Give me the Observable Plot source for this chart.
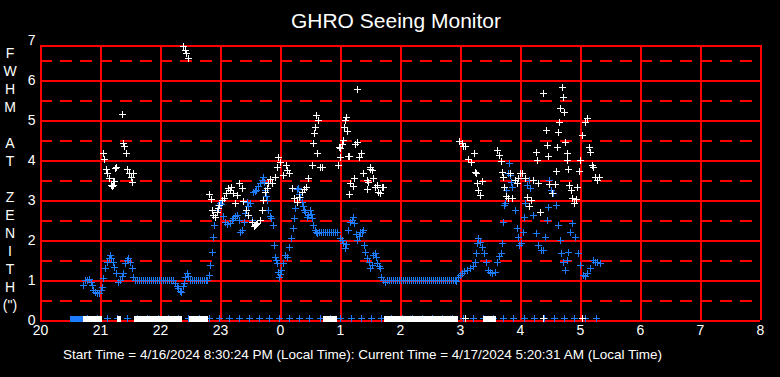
<!DOCTYPE html>
<html>
<head>
<meta charset="utf-8">
<script src="https://cdn.jsdelivr.net/npm/d3@7"></script>
<script src="https://cdn.jsdelivr.net/npm/@observablehq/plot@0.6"></script>
<style>
html, body { margin: 0; padding: 0; background: #000; }
#wrap { position: relative; width: 780px; height: 377px; background: #000; overflow: hidden;
  font-family: Arial, "Liberation Sans", sans-serif; color: #fff; }
#chart { position: absolute; left: 0; top: 0; }
#title { position: absolute; left: 0; width: 792px; top: 10px; text-align: center; font-size: 21px; line-height: 21px; }
#footer { position: absolute; left: 0; width: 725px; top: 348px; text-align: center; font-size: 13.5px; line-height: 14px; white-space: nowrap; }
#ylab { position: absolute; left: 0; width: 20px; top: 44px; text-align: center; font-size: 14px; line-height: 18px; }
</style>
</head>
<body>
<div id="wrap">
  <div id="chart"></div>
  <div id="title"></div>
  <div id="ylab"></div>
  <div id="footer"></div>
</div>
<script>
// ---------- text ----------
const titleText = "GHRO Seeing Monitor";
const footerText = "Start Time = 4/16/2024 8:30:24 PM (Local Time): Current Time = 4/17/2024 5:20:31 AM (Local Time)";
const yLabelLetters = ["F", "W", "H", "M", "", "A", "T", "", "Z", "E", "N", "I", "T", "H", "(\")"];

// ---------- axes (time in minutes after 20:00 local) ----------
const xTickLabels = ["20", "21", "22", "23", "0", "1", "2", "3", "4", "5", "6", "7", "8"];
const yTickValues = [0, 1, 2, 3, 4, 5, 6, 7];
const yHalfValues = [0.5, 1.5, 2.5, 3.5, 4.5, 5.5, 6.5];
const yFrameTop = 6.875;

// ---------- blue series [minute, FWHM] ----------
const blueEvening = [
  [43,0.88],[45,1.0],[47,1.0],[49,1.03],[51,0.95],[52,0.88],[53,0.75],[55,0.7],[57,0.68],[59,0.68],
  [61,0.75],[62,0.83],[63,1.05],[65,1.3],[67,1.45],[69,1.55],[70,1.62],[71,1.55],[73,1.45],[74,1.33],
  [76,1.17],[78,0.95],[80,1.0],[82,1.1],[83,1.17],[85,1.42],[87,1.5],[88,1.55],[90,1.45],[92,1.3],
  [93,1.08],[95,1.0],[97,1.0],[99,1.0],[101,1.0],[103,1.0],[105,1.0],[107,1.0],[109,1.0],[111,1.0],
  [113,1.0],[115,1.0],[117,1.0],[119,1.0],[121,1.0],[123,1.0],[125,1.0],[127,1.0],[129,1.0],[131,1.0],
  [133,1.0],[135,0.92],[137,0.85],[138,0.8],[140,0.72],[141,0.7],
  [143,0.85],[144,0.92],[145,1.08],[147,1.17],[148,1.1],[150,1.0],[152,1.0],[154,1.0],[156,1.0],[158,1.0],
  [160,1.0],[162,1.0],[164,1.0],[166,1.0],[167,1.0]
];
const blueMidnight = [
  [169,1.12],[170,1.37],[172,1.7],[173,2.07],[174,2.37],[175,2.57],[177,2.75],[178,2.87],[180,2.92],[181,2.9],
  [183,2.6],[185,2.45],[187,2.4],[190,2.42],[192,2.5],[193,2.55],[195,2.6],[197,2.62],[199,2.5],[200,2.2],
  [202,2.25],[204,2.45],[205,2.67],[207,2.95],[208,2.85],[210,2.92],[212,2.5],[213,3.2],[215,3.22],[216,3.25],
  [218,3.35],[220,3.42],[222,3.5],[223,3.57],[224,3.45],[225,3.25],[226,3.1],[227,3.0],[228,2.75],[230,2.6],
  [231,2.55],[233,2.37],[234,1.87],[235,1.57],[236,1.5],[237,1.42],[238,1.2],[239,1.08],[240,1.15],[241,1.25],
  [243,1.42],[245,1.62],[247,1.57],[249,1.82],[251,2.05],[253,2.3],[254,2.55],[255,2.8],[257,3.27],[258,3.3],
  [259,3.15],[260,3.08],[262,2.95],[263,2.85],[264,2.75],[265,2.7],[267,2.57],[268,2.62],[270,2.75],[271,2.65],
  [272,2.55],[273,2.37],[275,2.25],[276,2.2],[277,2.17],[279,2.2],[281,2.2],[283,2.2],[285,2.2],[287,2.2],
  [289,2.2],[291,2.2],[293,2.2],[295,2.2],[297,2.2],[300,2.05],[302,2.0],[303,1.92],[305,1.8],[306,1.9],
  [308,2.25],[310,2.45],[312,2.5],
  [313,2.57],[314,2.42],[316,2.15],[317,2.0],[319,2.1],[320,2.2],[322,2.2],[323,2.25],[324,1.87],[325,1.7],
  [327,1.55],[329,1.45],[330,1.3],[332,1.37],[333,1.62],[335,1.67],[336,1.57],[337,1.42],[339,1.35],[340,1.3],
  [341,1.08],[343,1.0],[345,0.95]
];
const blueNight = [
  [347,1.0],[349,1.0],[351,1.0],[353,1.0],[355,1.0],[357,1.0],[359,1.0],[361,1.0],[363,1.0],[365,1.0],
  [367,1.0],[369,1.0],[371,1.0],[373,1.0],[375,1.0],[377,1.0],[379,1.0],[381,1.0],[383,1.0],[385,1.0],
  [387,1.0],[389,1.0],[391,1.0],[393,1.0],[395,1.0],[397,1.0],[399,1.0],[401,1.0],[403,1.0],[405,1.0],
  [407,1.0],[409,1.0],[411,1.0],[413,1.0],[415,1.0],[416,0.98]
];
const blueMorning = [
  [418,1.08],[420,1.12],[422,1.17],[424,1.22],[427,1.25],[430,1.3],[433,1.35],[435,1.45],[436,1.67],[437,1.92],
  [438,2.05],[440,1.95],[442,1.82],[444,1.67],[446,1.45],[448,1.25],[450,1.2],[452,1.17],[455,1.2],[457,1.45],
  [459,1.6],[461,1.67],[462,1.92],[463,2.45],[464,2.87],[465,2.92],[466,3.25],[468,3.67],[469,3.92],[470,3.62],
  [471,3.45],[472,3.32],[475,2.75],[477,2.3],[478,2.07],[479,1.87],[481,1.92],[483,2.2],[484,2.57],[485,2.92],
  [487,3.37],[489,3.5],[490,3.3],[493,2.62],[496,2.17],[498,1.87],[501,1.75],[503,1.75],[505,2.07],[507,2.5],
  [508,2.82],[509,3.5],[511,3.25],[513,3.17],[516,2.87],[518,2.37],[520,2.0],[521,1.67],[523,1.45],[525,1.25],
  [527,1.5],[528,1.7],[530,2.2],[532,2.42],[535,2.07],[538,1.67],[540,1.37],[543,1.12],[545,1.1],[547,1.17],
  [550,1.3],[553,1.5],[555,1.45],[557,1.45],[560,1.42]
];
// blue flag row at zero
const blueZeroMinutes = [47,57,67,77,87,97,107,118,128,138,148,159,169,179,189,199,209,219,229,239,249,259,269,280,
  290,300,311,321,331,341,351,362,372,382,392,402,412,423,433,443,453,463,473,484,494,504,514,524,534,545,556];
const blueZeroStart = [30];
const blueZeroEnd = [43];

// ---------- white series [minute, FWHM] ----------
const whiteEvening = [
  [63,4.17],[64,4.02],[66,3.77],[67,3.67],[69,3.55],[71,3.37],[72,3.35],[73,3.38],[73.5,3.47],[75,3.8],
  [76,3.82],[82,5.15],[83,4.42],[84,4.35],[86,4.17],[87,3.77],[89,3.67],[91,3.57],[92,3.45],[93,3.67]
];
const whiteTop = [[143,6.85],[145,6.75],[146,6.67],[148,6.55]];
const whiteMidnight = [
  [169,3.15],[171,3.02],[172,2.75],[173,2.62],[175,2.57],[177,2.7],[178,2.8],[179,2.87],[182,3.0],[184,3.05],
  [186,3.17],[188,3.3],[190,3.25],[191,3.32],[193,3.17],[195,2.92],[197,3.12],[199,3.42],[202,3.3],[203,2.97],
  [206,2.75],[208,2.62],[212,2.45],[214,2.35],[215,2.37],[216,2.4],[217,2.42],[220,2.5],[222,2.75],[223,3.0],
  [225,3.2],[227,3.3],[228,3.42],[230,3.52],[232,3.42],[235,3.57],[237,3.82],[238,4.07],[240,3.95],[243,3.62],
  [246,3.87],[247,3.75],[249,3.67],[252,3.3],[254,3.05],[257,2.95],[259,3.08],[262,3.2],[264,3.27],[266,3.32],
  [268,3.55],[272,3.87],[273,4.42],[274,4.67],[275,4.82],[276,5.12],[277,4.17],[278,5.0],[280,3.82],[282,3.82]
];
const whiteOne = [
  [298,3.87],[299,4.32],[300,4.07],[300,4.3],[302,4.4],[303,4.5],[304,4.82],[305,5.0],[306,5.07],[307,4.72],
  [308,4.1],[309,3.15],[309,4.1],[310,3.42],[313,3.35],[314,3.55],[315,4.4],[317,4.45],[317,5.77],[319,4.07],
  [321,4.17],[323,3.67],[327,3.27],[327,3.5],[328,3.45],[330,3.77],[330,3.82],[332,3.75],[333,3.55],[335,3.32],
  [337,3.37],[338,3.2],[340,3.17],[342,3.32],[343,3.32]
];
const whiteMorning = [
  [419,4.47],[422,4.42],[423,4.35],[425,4.35],[428,4.02],[431,3.95],[434,4.17],[435,3.7],[436,3.67],[437,3.42],
  [438,3.25],[440,3.12],[442,3.47],[457,4.25],[459,4.12],[461,3.97],[462,3.7],[463,3.57],[464,3.32],[466,3.1],
  [468,3.05],[470,3.67],[472,3.05],[475,3.5],[477,3.42],[478,3.55],[480,3.67],[482,3.67],[485,3.55],[487,3.07],
  [489,2.85],[491,3.0],[493,3.5],[496,4.2],[497,4.0],[498,3.42],[500,2.7],[503,5.67],[506,4.75],[507,4.37],
  [508,4.1],[509,3.4],[512,3.17],[515,3.4],[516,3.72],[517,4.32],[518,4.7],[519,4.95],[520,5.3],[522,5.82],
  [523,5.57],[524,5.2],[525,4.45],[527,4.17],[527,4.0],[528,3.77],[529,3.37],[531,3.25],[532,3.05],[534,2.92],
  [536,3.02],[537,3.32],[539,3.72],[540,4.0],[542,4.62],[545,4.95],[547,5.05],[549,4.32],[550,4.2],[552,3.87],
  [553,3.82],[555,3.57],[557,3.5],[559,3.57]
];
// white flag row at zero (no white measurement)
const whiteZeroStart = [43, 77, 94, 149, 283, 344, 443];
const whiteZeroEnd   = [62, 81, 142, 168, 297, 418, 456];
const whiteZeroSingles = [425, 503, 542];

// ---------- styles ----------
const RED = "#ff0000";
const BLUE = "#1e7dff";
const WHITE = "#ffffff";

const cross = {
  draw(ctx, size) {
    const r = Math.sqrt(size / Math.PI);
    ctx.moveTo(-r, 0); ctx.lineTo(r, 0);
    ctx.moveTo(0, -r); ctx.lineTo(0, r);
  }
};

const bluePts = [...blueEvening, ...blueMidnight, ...blueNight, ...blueMorning];
const whitePts = [...whiteEvening, ...whiteTop, ...whiteMidnight, ...whiteOne, ...whiteMorning];
const xTicks = xTickLabels.map((_, i) => i * 60);
const whiteGaps = whiteZeroStart.map((s, i) => ({s, e: whiteZeroEnd[i]}));
const blueGaps = blueZeroStart.map((s, i) => ({s, e: blueZeroEnd[i]}));

const dotOpts = (color) => ({x: d => d[0], y: d => d[1], symbol: cross, r: 3.5, stroke: color, fill: "none", strokeWidth: 1.2, shapeRendering: "crispEdges"});

const plot = Plot.plot({
  width: 780, height: 377,
  marginLeft: 40, marginRight: 20, marginTop: 40, marginBottom: 57,
  style: {background: "#000", color: "#fff", fontFamily: "Arial, 'Liberation Sans', sans-serif", fontSize: "14px", overflow: "visible"},
  x: {domain: [0, 720]},
  y: {domain: [0, 7]},
  marks: [
    Plot.ruleY(yHalfValues, {stroke: RED, strokeWidth: 2, strokeDasharray: "12,8", shapeRendering: "crispEdges"}),
    Plot.ruleY([...yTickValues.slice(0, 7), yFrameTop], {stroke: RED, strokeWidth: 2, shapeRendering: "crispEdges"}),
    Plot.ruleX(xTicks, {y1: 0, y2: yFrameTop, stroke: RED, strokeWidth: 2, shapeRendering: "crispEdges"}),
    Plot.axisX({ticks: xTicks, tickFormat: (d, i) => xTickLabels[i], tickSize: 0, tickPadding: 5, label: null, fontSize: 14, fill: "#fff"}),
    Plot.axisY({ticks: yTickValues, tickFormat: d => String(d), tickSize: 0, tickPadding: 5, label: null, fontSize: 14, fill: "#fff"}),
    Plot.dot(blueZeroMinutes, {x: d => d, y: () => 0, dy: -2, symbol: cross, r: 3.5, stroke: BLUE, fill: "none", strokeWidth: 1.2, shapeRendering: "crispEdges"}),
    Plot.ruleY(blueGaps, {y: () => 0, x1: "s", x2: "e", dy: -2, stroke: BLUE, strokeWidth: 6, shapeRendering: "crispEdges"}),
    Plot.ruleY(whiteGaps, {y: () => 0, x1: "s", x2: "e", dy: -2, stroke: WHITE, strokeWidth: 6, shapeRendering: "crispEdges"}),
    Plot.dot(whiteZeroSingles, {x: d => d, y: () => 0, dy: -2, symbol: cross, r: 3.5, stroke: WHITE, fill: "none", strokeWidth: 1.2, shapeRendering: "crispEdges"}),
    Plot.dot(bluePts, dotOpts(BLUE)),
    Plot.dot(whitePts, dotOpts(WHITE))
  ]
});
document.getElementById("chart").appendChild(plot);
document.getElementById("title").textContent = titleText;
document.getElementById("footer").textContent = footerText;
document.getElementById("ylab").innerHTML = yLabelLetters.map(c => `<div>${c === "" ? "&nbsp;" : c}</div>`).join("");
</script>
</body>
</html>
